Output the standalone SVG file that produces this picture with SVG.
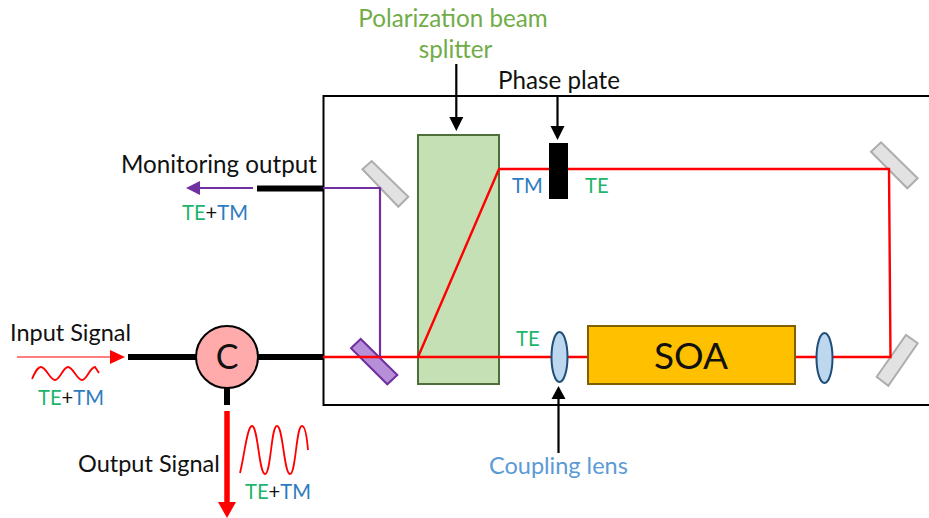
<svg xmlns="http://www.w3.org/2000/svg" width="929" height="518" viewBox="0 0 929 518">
<style>
text{font-family:"Lato","Open Sans","Liberation Sans",sans-serif;fill:#111}
.l{font-size:24.2px}
.m{font-size:23.5px}
.s{font-size:20.2px}
.g{fill:#1DB56C}
.b{fill:#2E7CC0}
.thick{fill:none;stroke:#000;stroke-width:6}
.ray{fill:none;stroke:#f00;stroke-width:2.400}
.pur{fill:none;stroke:#7030A0;stroke-width:2.200}
.ptr{fill:none;stroke:#000;stroke-width:2.200}
.mir{fill:#E2E2E2;stroke:#ADADAD;stroke-width:2}
.lens{fill:#BDD7EE;stroke:#1F4E79;stroke-width:2}
</style>
<rect width="929" height="518" fill="#fff"/>
<path d="M931 96H323.500V405H931" fill="none" stroke="#000" stroke-width="2"/>

<g id="pbs"><rect x="418" y="135" width="81" height="249" fill="#C5E0B4" stroke="#4F6F3A" stroke-width="2"/></g>
<g id="mirror-monitor"><polygon class="mir" points="362.500,169.300 371.700,161 408.300,196.700 398.300,206.700"/></g>
<g id="mirror-purple"><polygon points="351,348.300 360.700,339 397.300,375 387.300,384.300" fill="#B68FD8" stroke="#7030A0" stroke-width="2"/></g>
<g id="mirror-top-right"><polygon class="mir" points="871,151.700 881,142.300 917.700,178.300 907.300,188.300"/></g>
<g id="mirror-bottom-right"><polygon class="mir" points="876.700,376.700 906,335 917.700,343.300 888.300,385.700"/></g>

<g id="connectors">
<path class="thick" d="M128 357H196M258 357H323M227 388V405M257 188.500H323"/>
<path class="ray" d="M323 357H890.500L889 169H499L418 357"/>
<path class="pur" d="M323 188H380V357M253 188H199"/>
<polygon points="186,188 200,181 200,195" fill="#7030A0"/>
<path d="M17 357H112" fill="none" stroke="#f00" stroke-width="1.200"/>
<polygon points="125,357 110,350 110,364" fill="#f00"/>
<path d="M227 411V503" fill="none" stroke="#f00" stroke-width="5.500"/>
<polygon points="227,518 218,502 236,502" fill="#f00"/>
<path class="ptr" d="M456.300 64V118M557.500 96V127M558.500 453V398"/>
<polygon points="456.300,131 449.300,117 463.300,117"/>
<polygon points="557.500,140 550.500,126 564.500,126"/>
<polygon points="558.500,386 551.500,399 565.500,399"/>
</g>

<g id="circulator"><circle cx="227" cy="357" r="31" fill="#FFABAB" stroke="#000" stroke-width="2"/><text x="227" y="369" text-anchor="middle" style="font-size:34px">C</text></g>
<g id="phase-plate"><rect x="549" y="143" width="19" height="56" fill="#000"/></g>
<g id="lens-1"><ellipse class="lens" cx="559.500" cy="357" rx="8" ry="25"/></g>
<g id="lens-2"><ellipse class="lens" cx="824.500" cy="358" rx="8" ry="25"/></g>
<g id="soa"><rect x="588" y="326" width="207" height="58" fill="#FFC000" stroke="#7F6000" stroke-width="2"/><text x="691" y="369" text-anchor="middle" style="font-size:37px">SOA</text></g>

<g id="waves" fill="none" stroke="#f00" stroke-width="1.800">
<path d="M32 379C36 370 38 367 41 367C46 367 50 380 55 380C60 380 63 367 68 367C73 367 77 380 82 380C87 380 90 367 95 367L99 373"/>
<path d="M240 473C244 458 247 426 252 426C258 426 259 474 265 474C271 474 271 426 277 426C283 426 284 474 290 474C296 474 296 426 302 426C305 426 307 438 308 450"/>
</g>

<g id="labels">
<text class="l" x="453" y="27" text-anchor="middle" style="fill:#70AD47">Polarization beam</text>
<text class="l" x="455.500" y="58" text-anchor="middle" style="fill:#70AD47">splitter</text>
<text class="l" x="498" y="89">Phase plate</text>
<text class="l" x="121" y="173">Monitoring output</text>
<text class="m" x="10" y="341">Input Signal</text>
<text class="m" x="78" y="472">Output Signal</text>
<text class="m" x="489" y="474" style="fill:#5B9BD5">Coupling lens</text>
<text class="s b" x="512" y="193">TM</text>
<text class="s g" x="585" y="193">TE</text>
<text class="s g" x="516" y="346">TE</text>
<text class="s" x="182" y="220"><tspan class="g">TE</tspan>+<tspan class="b">TM</tspan></text>
<text class="s" x="38" y="405"><tspan class="g">TE</tspan>+<tspan class="b">TM</tspan></text>
<text class="s" x="245" y="499"><tspan class="g">TE</tspan>+<tspan class="b">TM</tspan></text>
</g>
</svg>
